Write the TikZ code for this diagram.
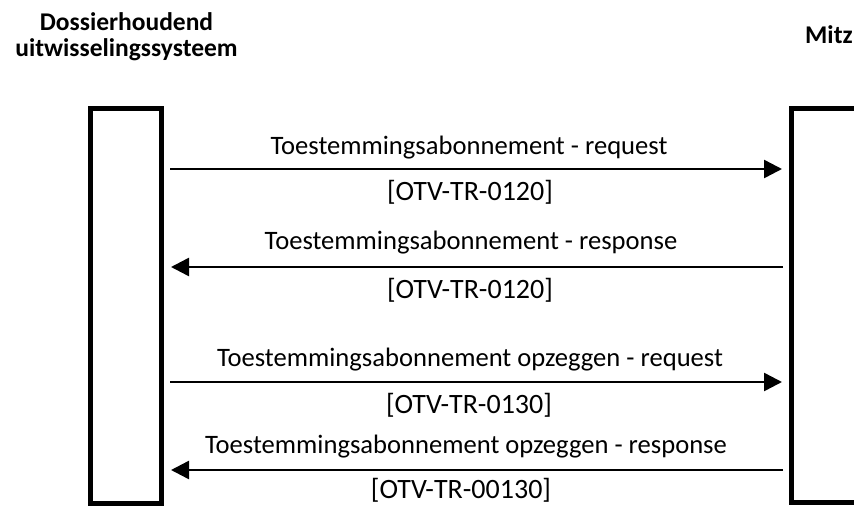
\documentclass[tikz,border=0pt]{standalone}
\usepackage{fontspec}
\setmainfont{Carlito}
\usetikzlibrary{arrows.meta,calc}
\begin{document}
\begin{tikzpicture}[x=1pt,y=-1pt,
  lifebox/.style={draw=black, line width=5pt, inner sep=0pt},
  msg/.style={line width=2.5pt, -{Triangle[length=18pt,width=18pt]}},
  lbl/.style={anchor=base, inner sep=0pt, font=\fontsize{26.6}{30}\selectfont},
  refl/.style={anchor=base, inner sep=0pt, font=\fontsize{28}{32}\selectfont},
  hdr/.style={inner sep=0pt, font=\bfseries\fontsize{25.5}{25}\selectfont}]
\useasboundingbox (0,0) rectangle (854,506);
\clip (0,0) rectangle (854,506);
% headers
\node[hdr, anchor=base] (h1) at (126.5,30.5) {Dossierhoudend};
\node[hdr, anchor=base] (h2) at (126.5,56) {uitwisselingssysteem};
\node[hdr, anchor=base west] (h3) at (805,43) {Mitz};
% lifeline boxes
\node[lifebox, minimum width=71pt, minimum height=395pt] (L) at (126,306) {};
\node[lifebox, minimum width=108.5pt, minimum height=394pt] (R) at (845.75,305.5) {};
% message rows
\coordinate (m1) at (470,169);
\coordinate (m2) at (470,267);
\coordinate (m3) at (470,382);
\coordinate (m4) at (470,470);
\draw[msg] ($(L.east |- m1)+(6,0)$) -- ($(R.west |- m1)+(-7,0)$);
\draw[msg] ($(R.west |- m2)+(-6,0)$) -- ($(L.east |- m2)+(7,0)$);
\draw[msg] ($(L.east |- m3)+(6,0)$) -- ($(R.west |- m3)+(-7,0)$);
\draw[msg] ($(R.west |- m4)+(-6,0)$) -- ($(L.east |- m4)+(7,0)$);
% labels
\node[lbl] (t1) at (469,154) {Toestemmingsabonnement - request};
\node[refl] (c1) at (470,200) {[OTV-TR-0120]};
\node[lbl] (t2) at (471,249) {Toestemmingsabonnement - response};
\node[refl] (c2) at (470,298) {[OTV-TR-0120]};
\node[lbl] (t3) at (470,366) {Toestemmingsabonnement opzeggen - request};
\node[refl] (c3) at (469,413) {[OTV-TR-0130]};
\node[lbl] (t4) at (466,453) {Toestemmingsabonnement opzeggen - response};
\node[refl] (c4) at (461,498) {[OTV-TR-00130]};
\end{tikzpicture}
\end{document}
